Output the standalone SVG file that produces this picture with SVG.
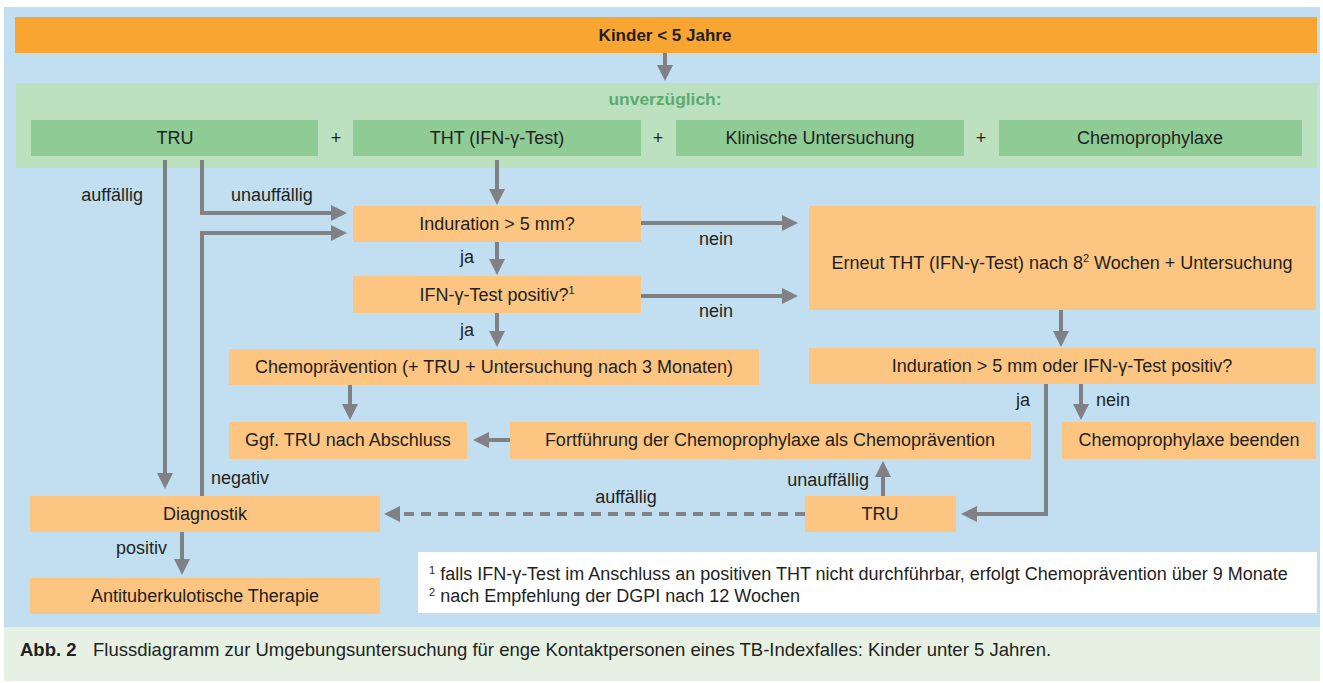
<svg xmlns="http://www.w3.org/2000/svg" width="1323" height="683" viewBox="0 0 1323 683">
<style>
text{font-family:"Liberation Sans",Arial,sans-serif;fill:#231f20}
.t{font-size:18px;text-anchor:middle}
.l{font-size:18px}
.b{font-weight:bold}
.box{fill:#fdc582}
.gbox{fill:#8fcc95}
.c{fill:none;stroke:#808085;stroke-width:4}
.d{stroke-dasharray:10 7}
</style>
<defs>
<marker id="ah" viewBox="0 0 16 16" markerWidth="16" markerHeight="16" refX="10" refY="8" orient="auto" markerUnits="userSpaceOnUse">
<path d="M0,0 L16,8 L0,16 z" fill="#808085"/>
</marker>
</defs>
<rect x="0" y="0" width="1323" height="683" fill="#ffffff"/>
<rect x="4" y="7" width="1316" height="620" fill="#c1dff0"/>
<rect x="4" y="627" width="1316" height="54" fill="#e6f1e4"/>

<g id="header"><rect x="15" y="17" width="1302" height="36" fill="#f8a532"/><text class="t b" x="665" y="41" style="font-size:17px">Kinder &lt; 5 Jahre</text></g>
<g id="unverzueglich"><rect x="16" y="83" width="1301" height="85" fill="#bde0be"/><text class="b" x="665" y="105" text-anchor="middle" style="font-size:17.4px;fill:#5aab6f">unverzüglich:</text></g>
<g id="tru1"><rect class="gbox" x="31" y="120" width="287" height="36"/><text class="t" x="175" y="144">TRU</text></g>
<g id="plus1"><text class="t" x="336" y="144">+</text></g>
<g id="tht"><rect class="gbox" x="353" y="120" width="288" height="36"/><text class="t" x="497" y="144">THT (IFN-γ-Test)</text></g>
<g id="plus2"><text class="t" x="658" y="144">+</text></g>
<g id="klinisch"><rect class="gbox" x="676" y="120" width="288" height="36"/><text class="t" x="820" y="144">Klinische Untersuchung</text></g>
<g id="plus3"><text class="t" x="981" y="144">+</text></g>
<g id="chemoprophylaxe"><rect class="gbox" x="999" y="120" width="303" height="36"/><text class="t" x="1150" y="144">Chemoprophylaxe</text></g>

<g id="induration"><rect class="box" x="353" y="206" width="288" height="36"/><text class="t" x="497" y="230">Induration &gt; 5 mm?</text></g>
<g id="ifn"><rect class="box" x="353" y="276" width="288" height="37"/><text class="t" x="497" y="301">IFN-γ-Test positiv?<tspan font-size="11" dy="-7">1</tspan></text></g>
<g id="chemopraevention"><rect class="box" x="229" y="349" width="530" height="36"/><text class="t" x="494" y="373">Chemoprävention (+ TRU + Untersuchung nach 3 Monaten)</text></g>
<g id="erneut"><rect class="box" x="809" y="206" width="507" height="104"/><text class="t" x="1062" y="269">Erneut THT (IFN-γ-Test) nach 8<tspan font-size="11" dy="-7">2</tspan><tspan dy="7"> Wochen + Untersuchung</tspan></text></g>
<g id="induration2"><rect class="box" x="809" y="348" width="507" height="36"/><text class="t" x="1062" y="372">Induration &gt; 5 mm oder IFN-γ-Test positiv?</text></g>
<g id="ggf"><rect class="box" x="229" y="422" width="238" height="37"/><text class="t" x="348" y="446">Ggf. TRU nach Abschluss</text></g>
<g id="fortfuehrung"><rect class="box" x="510" y="422" width="521" height="37"/><text class="t" x="770" y="446">Fortführung der Chemoprophylaxe als Chemoprävention</text></g>
<g id="beenden"><rect class="box" x="1062" y="422" width="254" height="37"/><text class="t" x="1189" y="446">Chemoprophylaxe beenden</text></g>
<g id="diagnostik"><rect class="box" x="30" y="496" width="350" height="36"/><text class="t" x="205" y="520">Diagnostik</text></g>
<g id="tru2"><rect class="box" x="805" y="496" width="151" height="36"/><text class="t" x="880" y="520">TRU</text></g>
<g id="therapie"><rect class="box" x="30" y="578" width="350" height="36"/><text class="t" x="205" y="602">Antituberkulotische Therapie</text></g>

<g id="footnote"><rect x="418" y="552" width="899" height="61" fill="#ffffff"/>
<text class="l" x="429" y="580"><tspan font-size="11" dy="-6">1</tspan><tspan dy="6"> falls IFN-γ-Test im Anschluss an positiven THT nicht durchführbar, erfolgt Chemoprävention über 9 Monate</tspan></text>
<text class="l" x="429" y="602"><tspan font-size="11" dy="-6">2</tspan><tspan dy="6"> nach Empfehlung der DGPI nach 12 Wochen</tspan></text></g>

<g id="caption"><text class="l" x="20" y="656" style="font-size:18.5px"><tspan class="b">Abb. 2</tspan></text><text class="l" x="93" y="656" style="font-size:18.5px">Flussdiagramm zur Umgebungsuntersuchung für enge Kontaktpersonen eines TB-Indexfalles: Kinder unter 5 Jahren.</text></g>

<g id="connectors">
<path class="c" d="M665,53 V75" marker-end="url(#ah)"/>
<path class="c" d="M165,160 V483" marker-end="url(#ah)"/>
<path class="c" d="M202,160 V213 H341" marker-end="url(#ah)"/>
<path class="c" d="M497,160 V199" marker-end="url(#ah)"/>
<path class="c" d="M202,496 V233 H341" marker-end="url(#ah)"/>
<path class="c" d="M497,242 V269" marker-end="url(#ah)"/>
<path class="c" d="M497,313 V341" marker-end="url(#ah)"/>
<path class="c" d="M641,223 H792" marker-end="url(#ah)"/>
<path class="c" d="M641,296 H792" marker-end="url(#ah)"/>
<path class="c" d="M1061,310 V341" marker-end="url(#ah)"/>
<path class="c" d="M1046,384 V514 H967" marker-end="url(#ah)"/>
<path class="c" d="M1081,384 V414" marker-end="url(#ah)"/>
<path class="c" d="M350,385 V414" marker-end="url(#ah)"/>
<path class="c" d="M510,440 H479" marker-end="url(#ah)"/>
<path class="c" d="M883,496 V467" marker-end="url(#ah)"/>
<path class="c d" d="M805,514 H390" marker-end="url(#ah)"/>
<path class="c" d="M182,532 V569" marker-end="url(#ah)"/>
<text class="l" x="143" y="201" text-anchor="end">auffällig</text>
<text class="l" x="231" y="201">unauffällig</text>
<text class="l" x="467" y="263" text-anchor="middle">ja</text>
<text class="l" x="467" y="336" text-anchor="middle">ja</text>
<text class="l" x="716" y="245" text-anchor="middle">nein</text>
<text class="l" x="716" y="317" text-anchor="middle">nein</text>
<text class="l" x="1023" y="406" text-anchor="middle">ja</text>
<text class="l" x="1096" y="406">nein</text>
<text class="l" x="211" y="484">negativ</text>
<text class="l" x="626" y="503" text-anchor="middle">auffällig</text>
<text class="l" x="869" y="486" text-anchor="end">unauffällig</text>
<text class="l" x="167" y="554" text-anchor="end">positiv</text>
</g>
</svg>
